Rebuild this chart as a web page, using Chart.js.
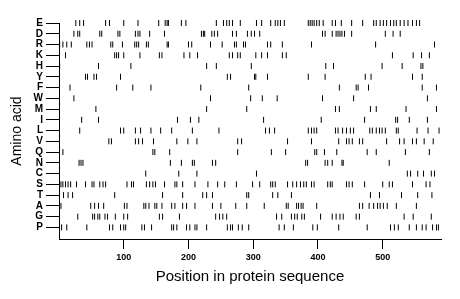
<!DOCTYPE html>
<html>
<head>
<meta charset="utf-8">
<script src="https://cdn.jsdelivr.net/npm/chart.js@4/dist/chart.umd.min.js"></script>
<style>
  html, body { margin: 0; padding: 0; background: #fff; }
  #wrap { width: 460px; height: 299px; }
</style>
</head>
<body>
<div id="wrap"><canvas id="chart"></canvas></div>
<script>
// amino acid rows, top to bottom
const aminoAcids = ['E', 'D', 'R', 'K', 'H', 'Y', 'F', 'W', 'M', 'I', 'L', 'V', 'Q', 'N', 'C', 'S', 'T', 'A', 'G', 'P'];
const xTicks = [100, 200, 300, 400, 500];
const seqLength = 590;

// positions of each residue in the sequence
const posE = [26, 32, 38, 72, 78, 100, 122, 154, 164, 167, 169, 189, 196, 243, 254, 259, 263, 268, 280, 305, 313, 327, 334, 338, 342, 348, 385, 388, 391, 394, 398, 402, 408, 422, 427, 436, 452, 469, 486, 490, 496, 501, 506, 512, 517, 521, 527, 533, 539, 546, 552, 557];
const posD = [23, 29, 32, 63, 66, 91, 94, 118, 122, 125, 140, 163, 220, 223, 225, 236, 240, 245, 268, 274, 291, 297, 302, 310, 407, 411, 422, 428, 431, 434, 437, 441, 452, 504, 516, 527];
const posR = [1, 6, 12, 19, 43, 47, 51, 80, 83, 98, 117, 120, 123, 135, 138, 167, 169, 200, 205, 234, 252, 271, 274, 285, 288, 322, 327, 345, 390, 489, 580];
const posK = [10, 86, 89, 92, 100, 125, 155, 159, 193, 202, 214, 263, 268, 276, 280, 304, 313, 322, 345, 351, 515, 547, 560, 572];
const posH = [1, 61, 111, 228, 243, 297, 412, 424, 499, 530, 559, 562];
const posY = [41, 44, 54, 58, 95, 260, 265, 302, 304, 322, 385, 411, 473, 482, 546, 561];
const posF = [17, 89, 114, 142, 219, 293, 433, 459, 462, 478, 561, 583];
const posW = [23, 234, 296, 314, 337, 407, 455, 569];
const posM = [57, 228, 290, 427, 433, 481, 490, 536, 583];
const posI = [35, 61, 183, 203, 216, 316, 405, 472, 520, 523, 541, 569];
const posL = [32, 95, 100, 118, 126, 142, 157, 174, 206, 247, 319, 325, 333, 385, 390, 394, 398, 427, 431, 438, 444, 450, 455, 480, 484, 490, 495, 499, 504, 521, 524, 553, 570, 587];
const posV = [77, 81, 118, 123, 129, 146, 182, 199, 213, 276, 282, 353, 390, 432, 444, 448, 453, 464, 469, 506, 526, 533, 546, 552, 564, 578];
const posQ = [6, 145, 148, 171, 276, 328, 350, 395, 398, 410, 429, 476, 490, 535, 572];
const posN = [31, 34, 37, 172, 189, 206, 209, 237, 242, 381, 384, 411, 415, 422, 437, 439, 510];
const posC = [134, 185, 213, 305, 538, 543, 554, 563, 575, 580];
const posS = [3, 6, 10, 14, 18, 27, 41, 51, 54, 63, 68, 72, 105, 112, 115, 135, 140, 145, 149, 163, 179, 182, 191, 210, 230, 245, 256, 274, 299, 310, 327, 330, 334, 353, 361, 367, 373, 378, 382, 390, 394, 415, 419, 422, 444, 448, 453, 472, 500, 510, 515, 546, 567, 573];
const posT = [7, 14, 21, 86, 160, 191, 222, 228, 237, 290, 293, 330, 338, 359, 481, 495, 529, 554, 576];
const posA = [3, 49, 55, 61, 69, 101, 105, 131, 134, 139, 148, 151, 159, 174, 179, 191, 197, 210, 237, 250, 273, 290, 317, 351, 354, 367, 370, 374, 377, 398, 464, 469, 479, 486, 492, 496, 501, 507, 521, 552];
const posG = [29, 52, 55, 60, 63, 71, 75, 87, 100, 106, 155, 160, 186, 242, 248, 253, 259, 336, 344, 359, 364, 368, 375, 379, 404, 422, 428, 434, 439, 459, 464, 533, 547, 575];
const posP = [4, 12, 43, 78, 83, 95, 100, 103, 128, 132, 143, 174, 177, 182, 197, 202, 210, 213, 228, 260, 265, 268, 277, 283, 293, 340, 348, 362, 392, 399, 432, 476, 512, 518, 524, 541, 552, 561, 567, 577, 583, 586];

const positions = [posE, posD, posR, posK, posH, posY, posF, posW, posM, posI, posL, posV, posQ, posN, posC, posS, posT, posA, posG, posP];

const datasets = positions.map((list, row) => ({
  label: aminoAcids[row],
  data: list.map(p => ({ x: p, y: row })),
  pointStyle: 'line',
  rotation: 90,
  radius: 3,
  borderWidth: 1,
  borderColor: '#000',
  backgroundColor: '#000',
  clip: false
}));

const fontFamily = '"Liberation Sans", Arial, Helvetica, sans-serif';

new Chart(document.getElementById('chart').getContext('2d'), {
  type: 'scatter',
  data: { datasets },
  options: {
    responsive: true,
    maintainAspectRatio: false,
    animation: false,
    layout: { padding: { top: 23, right: 19, left: 0, bottom: 0 } },
    plugins: { legend: { display: false }, tooltip: { enabled: false } },
    scales: {
      x: {
        type: 'linear',
        min: 0,
        max: seqLength,
        afterBuildTicks: s => { s.ticks = xTicks.map(v => ({ value: v })); },
        afterFit: s => { s.height = 60; },
        grid: { drawOnChartArea: false, tickLength: 10, color: '#000' },
        border: { color: '#000', width: 1 },
        ticks: { color: '#000', padding: 3, font: { size: 9, family: fontFamily, weight: 'bold' } },
        title: {
          display: true,
          text: 'Position in protein sequence',
          color: '#000',
          font: { size: 15, family: fontFamily },
          padding: { top: 2, bottom: 13 }
        }
      },
      y: {
        type: 'linear',
        reverse: true,
        min: 0,
        max: 20.08,
        afterBuildTicks: s => { s.ticks = aminoAcids.map((a, i) => ({ value: i })); },
        afterFit: s => { s.width = 59; },
        grid: { drawOnChartArea: false, tickLength: 13, color: '#000' },
        border: { color: '#000', width: 1 },
        ticks: {
          color: '#000',
          padding: 3,
          autoSkip: false,
          font: { size: 10, family: fontFamily, weight: 'bold' },
          callback: v => aminoAcids[v]
        },
        title: {
          display: true,
          text: 'Amino acid',
          color: '#000',
          font: { size: 14, family: fontFamily },
          padding: { top: 9, bottom: 0 }
        }
      }
    }
  }
});
</script>
</body>
</html>
